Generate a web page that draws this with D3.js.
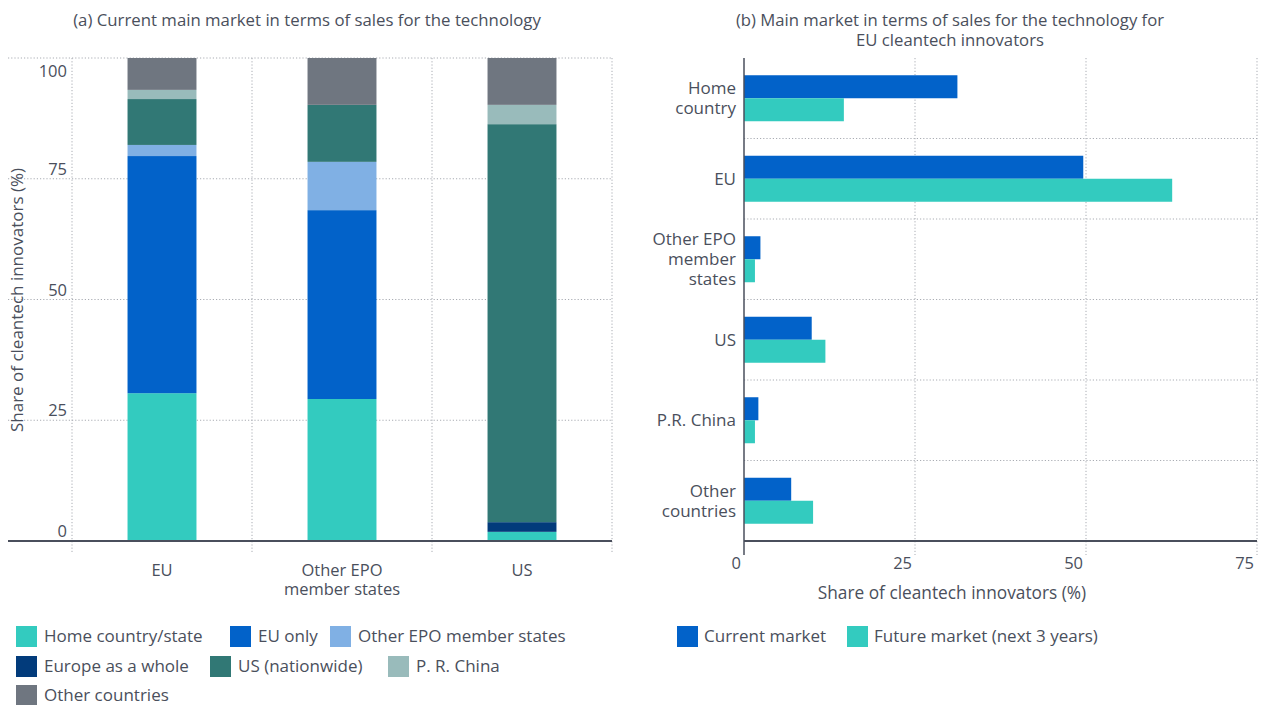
<!DOCTYPE html>
<html>
<head>
<meta charset="utf-8">
<script src="https://cdn.jsdelivr.net/npm/d3@7"></script>
<style>
  body { margin: 0; background: #fff; }
  text { font-family: "Open Sans", "Noto Sans", sans-serif; fill: #4a4f5c; }
</style>
</head>
<body>
<svg id="chart" width="1268" height="705"></svg>
<script>
// ---- data (a) ----
const markets = ["EU", "Other EPO member states", "US"];
const marketLines = [["EU"], ["Other EPO", "member states"], ["US"]];
const stackKeys = ["Home country/state", "EU only", "Other EPO member states",
  "Europe as a whole", "US (nationwide)", "P. R. China", "Other countries"];
const homeShare   = [30.6, 29.4, 1.9];
const euOnly      = [49.1, 39.1, 0];
const otherEpo    = [2.3, 10.0, 0];
const europeWhole = [0, 0, 2.0];
const usShare     = [9.5, 11.8, 82.4];
const chinaShare  = [1.9, 0, 4.0];
const otherShare  = [6.6, 9.7, 9.7];
const yTicksA = [0, 25, 50, 75, 100];

// ---- data (b) ----
const regions = ["Home country", "EU", "Other EPO member states", "US", "P.R. China", "Other countries"];
const regionLines = [["Home", "country"], ["EU"], ["Other EPO", "member", "states"], ["US"], ["P.R. China"], ["Other", "countries"]];
const currentMarket = [31.2, 49.6, 2.4, 9.9, 2.1, 6.9];
const futureMarket  = [14.6, 62.6, 1.6, 11.9, 1.6, 10.1];
const xTicksB = [0, 25, 50, 75];

const stackColors = ["#33cbbf", "#0262c9", "#80b0e4", "#023b7b", "#317875", "#99bbbb", "#6f7680"];
const barColors = ["#0262c9", "#33cbbf"];
const axisCol = "#4a4f5c", gridCol = "#a9acb3";

const svg = d3.select("#chart");

// ================= (a) stacked bars =================
const rowsA = markets.map((m, i) => ({
  market: m,
  [stackKeys[0]]: homeShare[i], [stackKeys[1]]: euOnly[i], [stackKeys[2]]: otherEpo[i],
  [stackKeys[3]]: europeWhole[i], [stackKeys[4]]: usShare[i], [stackKeys[5]]: chinaShare[i],
  [stackKeys[6]]: otherShare[i]
}));
const series = d3.stack().keys(stackKeys)(rowsA);

const xA = d3.scaleBand().domain(markets).range([72, 612]).paddingInner(0.617).paddingOuter(0.3085);
const yA = d3.scaleLinear().domain([0, 100]).range([541, 58]);
const colorA = d3.scaleOrdinal().domain(stackKeys).range(stackColors);

const gA = svg.append("g");
// horizontal grid
gA.selectAll("line.hg").data(yTicksA.filter(d => d > 0)).join("line")
  .attr("x1", 8).attr("x2", 612).attr("y1", d => yA(d)).attr("y2", d => yA(d))
  .attr("stroke", gridCol).attr("stroke-dasharray", "1.2,2");
// vertical grid at band edges
const edgesA = [72, ...markets.map(m => xA(m) + xA.bandwidth() / 2 + xA.step() / 2)];
gA.selectAll("line.vg").data(edgesA).join("line")
  .attr("x1", d => d).attr("x2", d => d).attr("y1", 58).attr("y2", 554)
  .attr("stroke", gridCol).attr("stroke-dasharray", "1.2,2");

gA.selectAll("g.s").data(series).join("g")
  .attr("fill", d => colorA(d.key))
  .selectAll("rect").data(d => d).join("rect")
  .attr("x", d => xA(d.data.market)).attr("width", xA.bandwidth())
  .attr("y", d => yA(d[1])).attr("height", d => yA(d[0]) - yA(d[1]));

// baseline
gA.append("line").attr("x1", 8).attr("x2", 612).attr("y1", yA(0)).attr("y2", yA(0))
  .attr("stroke", axisCol).attr("stroke-width", 2);

// y tick labels
gA.selectAll("text.yt").data(yTicksA).join("text")
  .attr("x", 67).attr("y", d => d === 100 ? yA(d) + 19 : yA(d) - 4)
  .attr("text-anchor", "end").attr("font-size", 16.5).text(d => d);

// x labels (one text per line)
marketLines.forEach((lines, i) => {
  lines.forEach((l, j) => gA.append("text").attr("text-anchor", "middle").attr("font-size", 16.5)
    .attr("x", xA(markets[i]) + xA.bandwidth() / 2).attr("y", 576 + j * 19).text(l));
});

gA.append("text").attr("transform", "translate(23,300) rotate(-90)")
  .attr("text-anchor", "middle").attr("font-size", 17).text("Share of cleantech innovators (%)");
gA.append("text").attr("x", 307).attr("y", 26).attr("text-anchor", "middle")
  .attr("font-size", 16.8).text("(a) Current main market in terms of sales for the technology");

// legend (a)
const legA = [[16, 626], [230, 626], [330, 626], [16, 656], [210, 656], [388, 656], [16, 685]];
stackKeys.forEach((k, i) => {
  const [lx, ly] = legA[i];
  gA.append("rect").attr("x", lx).attr("y", ly).attr("width", 21).attr("height", 21).attr("fill", colorA(k));
  gA.append("text").attr("x", lx + 28).attr("y", ly + 16).attr("font-size", 17).text(k);
});

// ================= (b) grouped horizontal bars =================
const xB = d3.scaleLinear().domain([0, 75]).range([744, 1257]);
const yB = d3.scaleBand().domain(regions).range([58, 541]);
const yB1 = d3.scaleBand().domain([0, 1]).range([yB.bandwidth() / 2 - 23, yB.bandwidth() / 2 + 23]);

const gB = svg.append("g");
// horizontal separators
gB.selectAll("line.hg").data(regions.slice(1)).join("line")
  .attr("x1", 744).attr("x2", 1257).attr("y1", d => yB(d)).attr("y2", d => yB(d))
  .attr("stroke", gridCol).attr("stroke-dasharray", "1.2,2");
// vertical grid
gB.selectAll("line.vg").data(xTicksB.filter(d => d > 0)).join("line")
  .attr("x1", d => xB(d)).attr("x2", d => xB(d)).attr("y1", 58).attr("y2", 555)
  .attr("stroke", gridCol).attr("stroke-dasharray", "1.2,2");

const rowsB = regions.map((r, i) => ({ region: r, vals: [currentMarket[i], futureMarket[i]] }));
gB.selectAll("g.r").data(rowsB).join("g")
  .attr("transform", d => `translate(0,${yB(d.region)})`)
  .selectAll("rect").data(d => d.vals).join("rect")
  .attr("x", xB(0)).attr("y", (d, j) => yB1(j)).attr("height", yB1.bandwidth())
  .attr("width", d => xB(d) - xB(0)).attr("fill", (d, j) => barColors[j]);

// axes lines
gB.append("line").attr("x1", 744).attr("x2", 1257).attr("y1", 541).attr("y2", 541)
  .attr("stroke", axisCol).attr("stroke-width", 2);
gB.append("line").attr("x1", 744).attr("x2", 744).attr("y1", 58).attr("y2", 555)
  .attr("stroke", axisCol).attr("stroke-width", 1.5);

gB.selectAll("text.xt").data(xTicksB).join("text")
  .attr("x", d => xB(d) - 3).attr("y", 569).attr("text-anchor", "end")
  .attr("font-size", 16.5).text(d => d);

regionLines.forEach((lines, i) => {
  const cy = yB(regions[i]) + yB.bandwidth() / 2;
  lines.forEach((l, j) => gB.append("text").attr("text-anchor", "end").attr("font-size", 17)
    .attr("x", 736).attr("y", cy + 6 - (lines.length - 1) * 10 + j * 20).text(l));
});

gB.append("text").attr("x", 952).attr("y", 599).attr("text-anchor", "middle")
  .attr("font-size", 17.3).text("Share of cleantech innovators (%)");
gB.append("text").attr("text-anchor", "middle").attr("font-size", 16.7).attr("x", 950).attr("y", 26)
  .text("(b) Main market in terms of sales for the technology for");
gB.append("text").attr("text-anchor", "middle").attr("font-size", 16.7).attr("x", 950).attr("y", 46)
  .text("EU cleantech innovators");

// legend (b)
const legKeys = ["Current market", "Future market (next 3 years)"];
const legB = [677, 847];
legKeys.forEach((k, i) => {
  gB.append("rect").attr("x", legB[i]).attr("y", 626).attr("width", 21).attr("height", 21).attr("fill", barColors[i]);
  gB.append("text").attr("x", legB[i] + 27).attr("y", 642).attr("font-size", 17).text(k);
});
</script>
</body>
</html>
